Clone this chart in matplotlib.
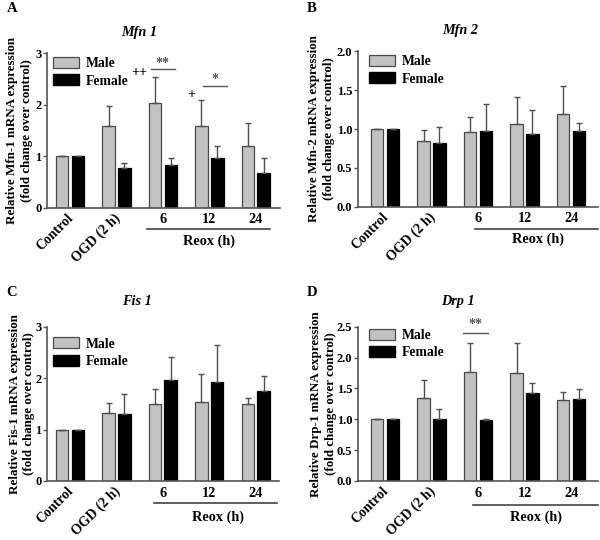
import matplotlib
matplotlib.use("Agg")
import matplotlib.pyplot as plt
import matplotlib.transforms as mtransforms
from matplotlib.patches import Patch
import numpy as np

plt.rcParams['font.family'] = ['Liberation Serif', 'DejaVu Serif']
plt.rcParams['font.weight'] = 'bold'

groups = ["Control", "OGD (2 h)", "6", "12", "24"]

mfn1_male = [1.00, 1.59, 2.03, 1.58, 1.19]
mfn1_male_err = [0.00, 0.38, 0.50, 0.52, 0.46]
mfn1_female = [1.00, 0.77, 0.83, 0.97, 0.67]
mfn1_female_err = [0.00, 0.09, 0.13, 0.22, 0.29]

mfn2_male = [1.00, 0.85, 0.96, 1.07, 1.19]
mfn2_male_err = [0.00, 0.14, 0.19, 0.34, 0.36]
mfn2_female = [1.00, 0.82, 0.97, 0.93, 0.97]
mfn2_female_err = [0.00, 0.20, 0.35, 0.32, 0.11]

fis1_male = [1.00, 1.33, 1.50, 1.54, 1.49]
fis1_male_err = [0.00, 0.18, 0.28, 0.54, 0.12]
fis1_female = [1.00, 1.30, 1.96, 1.92, 1.75]
fis1_female_err = [0.00, 0.40, 0.45, 0.72, 0.30]

drp1_male = [1.00, 1.35, 1.76, 1.75, 1.31]
drp1_male_err = [0.00, 0.29, 0.47, 0.49, 0.13]
drp1_female = [1.00, 1.01, 0.99, 1.42, 1.33]
drp1_female_err = [0.00, 0.16, 0.01, 0.16, 0.16]

GRAY = "#c2c2c2"
EDGE = "#4a4a4a"
ECOL = "#505050"

fig = plt.figure(figsize=(6.0, 5.4), dpi=100)

panels = [
    dict(letter="A", title="Mfn 1", gene="Mfn-1", male=mfn1_male, merr=mfn1_male_err,
         female=mfn1_female, ferr=mfn1_female_err,
         rect=[0.0783, 0.6154, 0.3883, 0.2859], ylim=(0, 3), yticks=[0, 1, 2, 3], fmt="{:.0f}",
         xlim=(-0.495, 4.52), title_x=0.395, title_y=1.136, lx=-0.06,
         reox=(1.65, 4.3), reox_y=-0.141, reox_tx=3.0, reox_ty=-0.22,
         leg=(0.025, 0.975), letter_xy=(12, 9)),
    dict(letter="B", title="Mfn 2", gene="Mfn-2", male=mfn2_male, merr=mfn2_male_err,
         female=mfn2_female, ferr=mfn2_female_err,
         rect=[0.5967, 0.6172, 0.4, 0.2878], ylim=(0, 2.0), yticks=[0, 0.5, 1.0, 1.5, 2.0], fmt="{:.1f}",
         xlim=(-0.58, 4.58), title_x=0.425, title_y=1.136, lx=-0.096,
         reox=(1.93, 4.58), reox_y=-0.141, reox_tx=3.28, reox_ty=-0.208,
         leg=(0.045, 0.975), letter_xy=(312, 9)),
    dict(letter="C", title="Fis 1", gene="Fis-1", male=fis1_male, merr=fis1_male_err,
         female=fis1_female, ferr=fis1_female_err,
         rect=[0.0783, 0.1093, 0.3867, 0.2857], ylim=(0, 3), yticks=[0, 1, 2, 3], fmt="{:.0f}",
         xlim=(-0.495, 4.5), title_x=0.388, title_y=1.164, lx=-0.05,
         reox=(1.8, 4.45), reox_y=-0.145, reox_tx=3.18, reox_ty=-0.234,
         leg=(0.025, 0.93), letter_xy=(12, 292)),
    dict(letter="D", title="Drp 1", gene="Drp-1", male=drp1_male, merr=drp1_male_err,
         female=drp1_female, ferr=drp1_female_err,
         rect=[0.5967, 0.1093, 0.4, 0.2857], ylim=(0, 2.5), yticks=[0, 0.5, 1.0, 1.5, 2.0, 2.5], fmt="{:.1f}",
         xlim=(-0.58, 4.58), title_x=0.417, title_y=1.164, lx=-0.088,
         reox=(1.9, 4.58), reox_y=-0.156, reox_tx=3.25, reox_ty=-0.234,
         leg=(0.045, 0.985), letter_xy=(312, 292)),
]

W = 0.27
OFF = 0.17
x = np.arange(len(groups))

for p in panels:
    ax = fig.add_axes(p["rect"])
    ax.bar(x - OFF, p["male"], W, color=GRAY, edgecolor=EDGE, linewidth=0.9, zorder=2)
    ax.bar(x + OFF, p["female"], W, color="black", edgecolor="black", linewidth=0.9, zorder=2)
    ax.errorbar(x - OFF, p["male"], yerr=[np.zeros(len(x)), p["merr"]], fmt="none",
                ecolor=ECOL, elinewidth=1.0, capsize=2.2, capthick=1.0, zorder=3)
    ax.errorbar(x + OFF, p["female"], yerr=[np.zeros(len(x)), p["ferr"]], fmt="none",
                ecolor=ECOL, elinewidth=1.0, capsize=2.2, capthick=1.0, zorder=3)
    ax.set_xlim(*p["xlim"])
    ax.set_ylim(*p["ylim"])
    ax.set_yticks(p["yticks"])
    ax.set_yticklabels([p["fmt"].format(v) for v in p["yticks"]], fontsize=9, fontweight="bold")
    ax.spines["top"].set_visible(False)
    ax.spines["right"].set_visible(False)
    for s in ["left", "bottom"]:
        ax.spines[s].set_color("#555555")
        ax.spines[s].set_linewidth(1.2)
    ax.tick_params(axis="y", length=3, width=1.0, color="#555555", pad=1)
    ax.tick_params(axis="x", length=0, pad=4)
    ax.set_xticks(x)
    ax.set_xticklabels(groups, fontsize=10.3, fontweight="bold")
    shift = mtransforms.ScaledTranslation(-3 / 100, 2 / 100, fig.dpi_scale_trans)
    for i, lab in enumerate(ax.get_xticklabels()):
        if i < 2:
            lab.set_rotation(45)
            lab.set_ha("right")
            lab.set_va("top")
            lab.set_rotation_mode("anchor")
            lab.set_fontsize(10)
            lab.set_transform(lab.get_transform() + shift)
    ax.set_ylabel("Relative %s mRNA expression\n(fold change over control)" % p["gene"],
                  fontsize=9.4, fontweight="bold", linespacing=1.3)
    ax.yaxis.set_label_coords(p["lx"], 0.5)
    ax.text(p["title_x"], p["title_y"], p["title"], transform=ax.transAxes, ha="center", va="center",
            fontsize=10.3, fontweight="bold", fontstyle="italic")
    trans = mtransforms.blended_transform_factory(ax.transData, ax.transAxes)
    ax.plot(list(p["reox"]), [p["reox_y"], p["reox_y"]], color="#444444", lw=1.2,
            transform=trans, clip_on=False)
    ax.text(p["reox_tx"], p["reox_ty"], "Reox (h)", transform=trans, ha="center", va="center",
            fontsize=10.3, fontweight="bold")
    handles = [Patch(facecolor=GRAY, edgecolor=EDGE, linewidth=0.9, label="Male"),
               Patch(facecolor="black", edgecolor="black", label="Female")]
    ax.legend(handles=handles, loc="upper left", bbox_to_anchor=p["leg"], frameon=False,
              prop=dict(size=9.8, weight="bold"), handlelength=1.9, handleheight=0.85,
              handletextpad=0.5, labelspacing=0.3, borderpad=0, borderaxespad=0)
    fig.text(p["letter_xy"][0] / 600, 1 - p["letter_xy"][1] / 540, p["letter"],
             ha="center", va="center", fontsize=10.5, fontweight="bold")
    p["ax"] = ax

# significance marks
axA = panels[0]["ax"]
axA.text(1.5, 2.62, "++", ha="center", va="center", fontsize=10, fontweight="bold")
axA.plot([1.74, 2.26], [2.69, 2.69], color="#555555", lw=1.0)
axA.text(2.0, 2.80, "**", ha="center", va="center", fontsize=10, fontweight="bold", color="#555555")
axA.text(2.62, 2.19, "+", ha="center", va="center", fontsize=10, fontweight="bold")
axA.plot([2.87, 3.39], [2.36, 2.36], color="#555555", lw=1.0)
axA.text(3.13, 2.50, "*", ha="center", va="center", fontsize=10, fontweight="bold", color="#555555")

axD = panels[3]["ax"]
axD.plot([1.67, 2.21], [2.39, 2.39], color="#555555", lw=1.0)
axD.text(1.94, 2.53, "**", ha="center", va="center", fontsize=10, fontweight="bold", color="#555555")

fig.savefig("out.png", dpi=100)
